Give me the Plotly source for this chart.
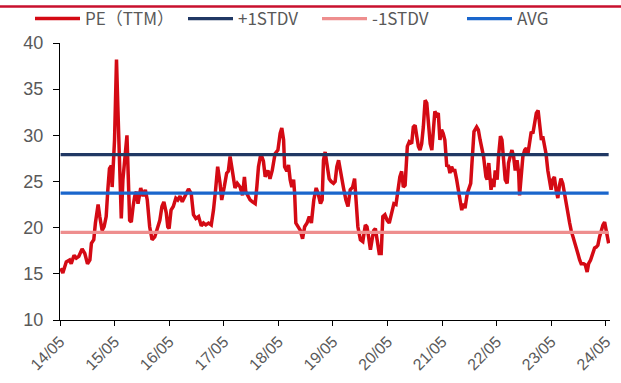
import plotly.graph_objects as go

# Trailing PE (TTM) readings, dated
dates = [
    "2014-05-05", "2014-05-20", "2014-06-12", "2014-07-04", "2014-07-15", "2014-08-03",
    "2014-08-18", "2014-09-04", "2014-09-26", "2014-10-14", "2014-11-01", "2014-11-17",
    "2014-11-27", "2014-12-13", "2014-12-24", "2015-01-11", "2015-01-22", "2015-02-07",
    "2015-02-20", "2015-03-06", "2015-03-17", "2015-03-28", "2015-04-09", "2015-04-15",
    "2015-05-01", "2015-05-14", "2015-05-23", "2015-06-04", "2015-06-15", "2015-06-26",
    "2015-07-07", "2015-07-23", "2015-08-10", "2015-08-21", "2015-09-02", "2015-09-13",
    "2015-09-24", "2015-10-05", "2015-10-23", "2015-11-08", "2015-11-23", "2015-12-06",
    "2015-12-22", "2016-01-07", "2016-01-25", "2016-02-12", "2016-02-28", "2016-03-13",
    "2016-03-26", "2016-04-11", "2016-04-21", "2016-04-30", "2016-05-13", "2016-05-28",
    "2016-06-14", "2016-06-27", "2016-07-12", "2016-07-27", "2016-08-15", "2016-09-07",
    "2016-09-25", "2016-10-10", "2016-10-26", "2016-11-13", "2016-12-01", "2016-12-16",
    "2017-01-01", "2017-01-19", "2017-02-06", "2017-02-21", "2017-03-07", "2017-03-21",
    "2017-04-06", "2017-04-17", "2017-05-04", "2017-05-20", "2017-05-31", "2017-06-12",
    "2017-06-23", "2017-07-04", "2017-07-15", "2017-07-30", "2017-08-18", "2017-09-03",
    "2017-09-16", "2017-09-25", "2017-10-09", "2017-10-24", "2017-11-09", "2017-11-27",
    "2017-12-08", "2017-12-19", "2018-01-04", "2018-01-21", "2018-02-02", "2018-02-20",
    "2018-03-06", "2018-03-21", "2018-04-09", "2018-04-28", "2018-05-13", "2018-05-24",
    "2018-06-05", "2018-06-12", "2018-06-27", "2018-07-08", "2018-07-19", "2018-07-30",
    "2018-08-11", "2018-08-18", "2018-08-26", "2018-09-09", "2018-09-25", "2018-10-10",
    "2018-10-24", "2018-11-09", "2018-11-24", "2018-12-08", "2018-12-24", "2019-01-09",
    "2019-01-22", "2019-02-07", "2019-02-18", "2019-02-27", "2019-03-10", "2019-03-21",
    "2019-04-06", "2019-04-19", "2019-05-05", "2019-05-16", "2019-05-27", "2019-06-08",
    "2019-06-19", "2019-06-30", "2019-07-11", "2019-07-27", "2019-08-10", "2019-08-25",
    "2019-09-10", "2019-09-23", "2019-10-02", "2019-10-15", "2019-11-01", "2019-11-17",
    "2019-12-04", "2019-12-15", "2019-12-26", "2020-01-07", "2020-01-18", "2020-01-29",
    "2020-02-09", "2020-02-20", "2020-03-06", "2020-03-19", "2020-03-30", "2020-04-13",
    "2020-04-28", "2020-05-12", "2020-05-28", "2020-06-12", "2020-06-26", "2020-07-11",
    "2020-07-22", "2020-08-03", "2020-08-14", "2020-08-26", "2020-09-02", "2020-09-10",
    "2020-09-23", "2020-10-09", "2020-10-20", "2020-11-01", "2020-11-12", "2020-11-23",
    "2020-12-04", "2020-12-15", "2020-12-26", "2021-01-07", "2021-01-18", "2021-01-29",
    "2021-02-10", "2021-02-21", "2021-03-02", "2021-03-13", "2021-03-24", "2021-04-05",
    "2021-04-16", "2021-04-27", "2021-05-08", "2021-05-19", "2021-06-01", "2021-06-11",
    "2021-06-22", "2021-07-03", "2021-07-14", "2021-07-25", "2021-08-06", "2021-08-17",
    "2021-08-29", "2021-09-09", "2021-09-20", "2021-10-01", "2021-10-16", "2021-10-30",
    "2021-11-08", "2021-11-15", "2021-11-30", "2021-12-18", "2021-12-29", "2022-01-10",
    "2022-01-21", "2022-02-02", "2022-02-18", "2022-02-26", "2022-03-09", "2022-03-24",
    "2022-04-05", "2022-04-12", "2022-04-21", "2022-05-04", "2022-05-13", "2022-05-26",
    "2022-06-05", "2022-06-16", "2022-06-27", "2022-07-10", "2022-07-19", "2022-08-02",
    "2022-08-11", "2022-08-22", "2022-09-02", "2022-09-14", "2022-09-25", "2022-10-01",
    "2022-10-12", "2022-10-23", "2022-11-04", "2022-11-15", "2022-11-26", "2022-12-07",
    "2022-12-18", "2022-12-29", "2023-01-10", "2023-01-21", "2023-02-02", "2023-02-13",
    "2023-02-24", "2023-03-05", "2023-03-16", "2023-03-27", "2023-04-08", "2023-04-19",
    "2023-04-30", "2023-05-11", "2023-05-22", "2023-06-02", "2023-06-14", "2023-06-25",
    "2023-07-05", "2023-07-17", "2023-07-28", "2023-08-08", "2023-08-20", "2023-09-01",
    "2023-09-11", "2023-09-22", "2023-10-04", "2023-10-14", "2023-10-26", "2023-11-07",
    "2023-11-17", "2023-12-03", "2023-12-14", "2023-12-27", "2024-01-06", "2024-01-19",
    "2024-02-04", "2024-02-15", "2024-02-26", "2024-03-08", "2024-03-19", "2024-03-30",
    "2024-04-11", "2024-04-22", "2024-05-03", "2024-05-19",
]

pe_ttm = [
    15.6, 15.1, 16.3, 16.5, 16.1, 17.0,
    16.7, 16.9, 17.7, 17.2, 16.1, 16.5,
    18.3, 18.7, 20.5, 22.5, 21.2, 19.7,
    20.1, 21.2, 24.1, 26.4, 26.7, 24.4,
    29.5, 38.2, 33.1, 26.6, 21.0, 25.2,
    27.7, 30.0, 20.8, 20.6, 22.3, 23.4,
    23.9, 22.6, 24.3, 23.4, 24.1, 23.0,
    20.1, 18.7, 19.0, 20.1, 20.8, 22.3,
    22.8, 21.6, 20.1, 19.9, 21.9, 22.3,
    23.2, 23.0, 23.4, 22.8, 23.4, 24.2,
    23.7, 21.4, 21.0, 21.2, 20.2, 20.5,
    20.3, 20.5, 20.3, 21.9, 24.1, 26.6,
    24.8, 23.0, 24.4, 25.9, 26.1, 27.7,
    26.6, 25.2, 24.3, 24.8, 24.4, 23.5,
    25.5, 23.9, 23.4, 23.0, 22.8, 22.6,
    24.4, 26.6, 28.0, 27.2, 25.5, 26.2,
    25.3, 26.2, 28.0, 28.4, 30.2, 30.8,
    29.5, 26.6, 26.1, 26.8, 25.2, 24.4,
    25.2, 23.7, 20.5, 20.1, 19.7, 18.8,
    20.1, 20.5, 21.2, 20.5, 23.0, 24.3,
    23.7, 22.6, 23.0, 27.3, 28.2, 27.0,
    25.3, 25.0, 24.8, 25.0, 26.6, 27.3,
    26.2, 25.5, 24.3, 23.0, 22.3, 24.1,
    24.4, 25.3, 23.0, 20.1, 18.7, 18.5,
    20.3, 20.1, 19.0, 17.6, 18.7, 19.7,
    19.9, 18.7, 17.2, 17.2, 21.2, 21.4,
    20.8, 20.5, 21.6, 22.6, 22.5, 24.1,
    25.5, 26.1, 24.4, 24.6, 26.6, 28.8,
    29.3, 29.1, 30.9, 31.1, 29.9, 28.8,
    28.4, 29.1, 30.9, 33.8, 33.5, 31.7,
    29.1, 28.4, 30.9, 32.6, 32.2, 32.4,
    29.5, 30.6, 30.2, 29.5, 26.6, 26.8,
    25.9, 26.6, 26.2, 26.2, 25.2, 24.1,
    23.0, 21.9, 22.6, 22.1, 23.7, 24.4,
    24.8, 26.6, 30.4, 30.9, 30.6, 29.5,
    28.8, 27.7, 25.5, 25.2, 27.0, 24.1,
    25.3, 24.4, 26.2, 25.2, 27.7, 29.9,
    29.5, 27.0, 25.2, 24.8, 27.0, 27.9,
    28.4, 27.7, 26.2, 27.3, 25.9, 23.5,
    25.9, 27.7, 28.4, 28.6, 28.0, 29.5,
    30.4, 30.2, 31.3, 32.4, 32.7, 30.9,
    29.5, 29.9, 29.1, 28.0, 26.2, 24.8,
    24.1, 25.2, 25.5, 24.1, 23.2, 24.6,
    25.3, 24.8, 23.7, 22.5, 21.2, 20.5,
    19.7, 19.0, 18.3, 17.9, 17.2, 16.5,
    16.1, 16.1, 16.0, 15.2, 16.1, 16.5,
    17.2, 17.8, 17.9, 18.1, 19.0, 19.7,
    20.3, 20.6, 19.7, 18.3,
]

# Reference bands
plus_1std = 27.9
avg = 23.75
minus_1std = 19.5

# X-axis ticks (yy/mm)
tick_dates = ["2014-05-01", "2015-05-01", "2016-05-01", "2017-05-01", "2018-05-01",
              "2019-05-01", "2020-05-01", "2021-05-01", "2022-05-01", "2023-05-01",
              "2024-05-01"]
tick_labels = ["14/05", "15/05", "16/05", "17/05", "18/05", "19/05",
               "20/05", "21/05", "22/05", "23/05", "24/05"]

x_range = ["2014-05-01", "2024-05-28"]

fig = go.Figure()

fig.add_trace(go.Scatter(
    x=dates, y=pe_ttm, mode="lines", name="PE（TTM）",
    line=dict(color="#d40a14", width=3.5), legendwidth=93,
))

span = [dates[0], dates[-1]]
fig.add_trace(go.Scatter(
    x=span, y=[plus_1std, plus_1std], mode="lines", name="+1STDV",
    line=dict(color="#203864", width=3.3), legendwidth=74,
))
fig.add_trace(go.Scatter(
    x=span, y=[minus_1std, minus_1std], mode="lines", name="-1STDV",
    line=dict(color="#ee8e8e", width=3.3), legendwidth=85,
))
fig.add_trace(go.Scatter(
    x=span, y=[avg, avg], mode="lines", name="AVG",
    line=dict(color="#1a66cc", width=3.3), legendwidth=35,
))

W, H = 621, 383
ml, mr, mt, mb = 60, 11, 43, 63
pw, ph = W - ml - mr, H - mt - mb

# thin crimson rule across the top of the page
rule_y = 1 + (mt - 6.5) / ph
fig.add_shape(type="line", xref="paper", yref="paper",
              x0=-ml / pw, x1=(W - ml) / pw, y0=rule_y, y1=rule_y,
              line=dict(color="#c8102e", width=2.5))

axis_font = dict(family="Liberation Sans, Arial, sans-serif", color="#595959")

fig.update_layout(
    width=W, height=H,
    margin=dict(l=ml, r=mr, t=mt, b=mb, pad=0, autoexpand=False),
    paper_bgcolor="white", plot_bgcolor="white",
    showlegend=True,
    legend=dict(
        orientation="h", x=(30 - ml) / pw, xanchor="left",
        y=1 + (mt - 19) / ph, yanchor="middle",
        font=dict(family="Liberation Sans Narrow, Noto Sans CJK SC, sans-serif",
                  size=17, color="#595959"),
        bgcolor="rgba(0,0,0,0)", traceorder="normal", itemwidth=45,
    ),
    xaxis=dict(
        type="date", range=x_range,
        tickvals=tick_dates, ticktext=tick_labels, tickangle=-45,
        ticks="outside", ticklen=5, tickwidth=1, tickcolor="black",
        showline=True, linecolor="black", linewidth=1,
        showgrid=False, zeroline=False,
        tickfont=dict(size=16, **axis_font),
    ),
    yaxis=dict(
        range=[10, 40], tickvals=[10, 15, 20, 25, 30, 35, 40],
        ticks="outside", ticklen=6, tickwidth=1, tickcolor="black",
        showline=True, linecolor="black", linewidth=1,
        showgrid=False, zeroline=False,
        tickfont=dict(size=18, **axis_font),
        ticklabelstandoff=6,
    ),
)

fig.write_html("out.html")
